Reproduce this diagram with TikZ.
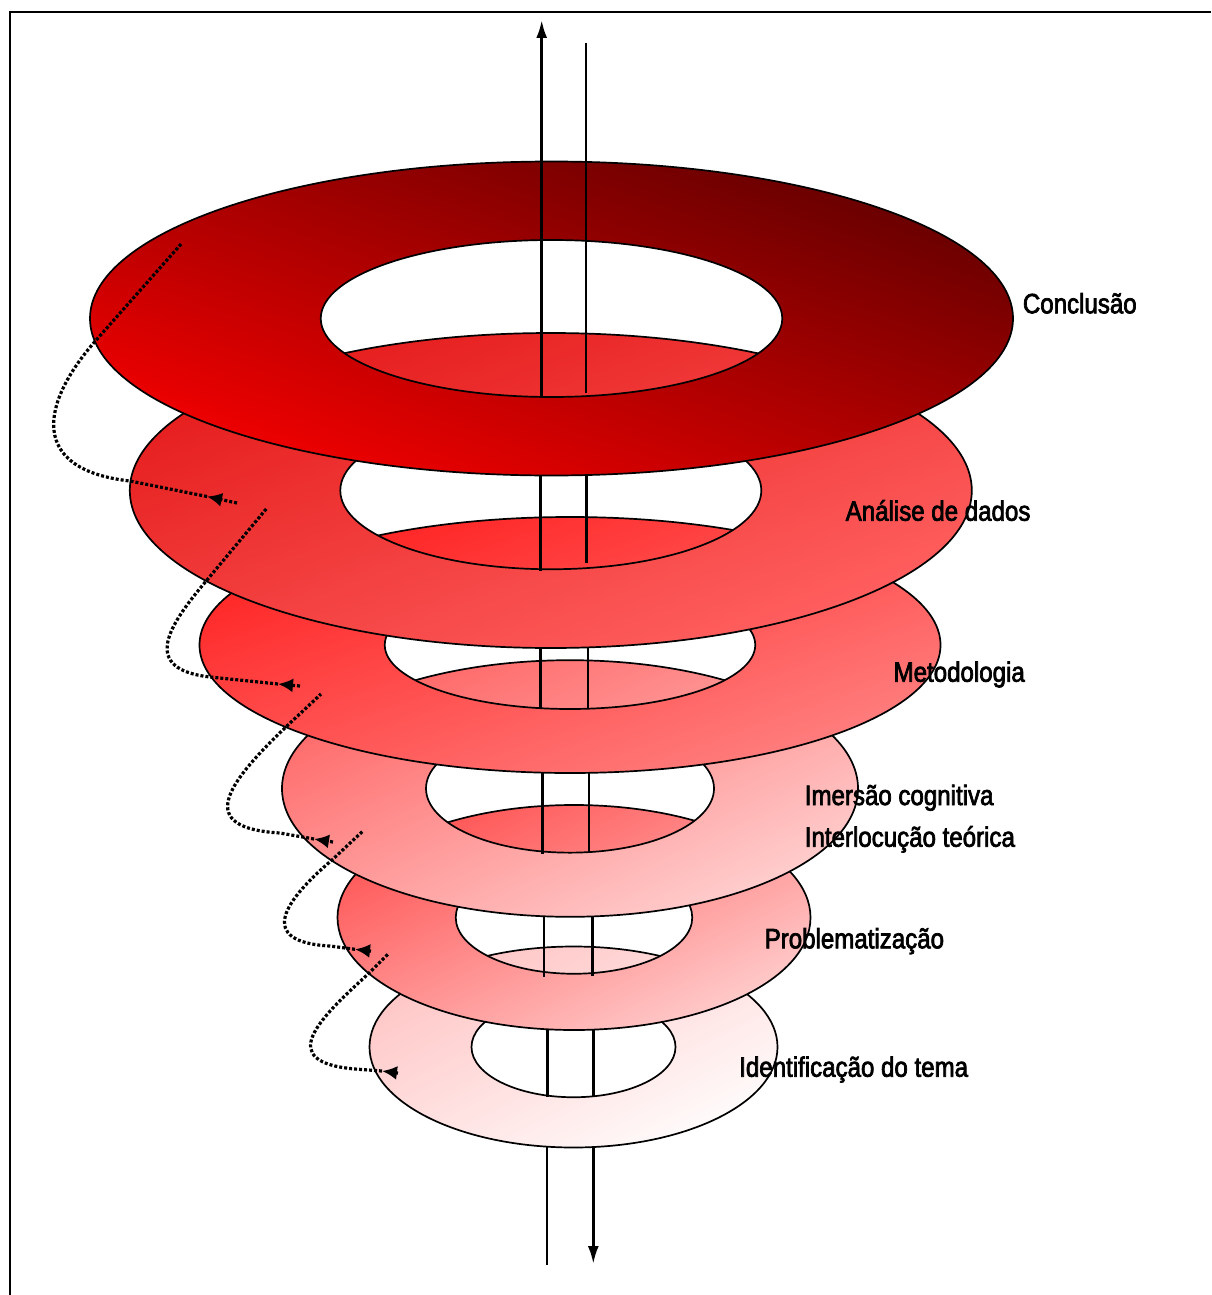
\documentclass[tikz,border=0pt]{standalone}
\usepackage{fontspec}
\setmainfont{Liberation Sans}[FakeStretch=0.86,FakeBold=2.5]
\usetikzlibrary{arrows.meta}
\definecolor{r1a}{HTML}{6C0000}
\definecolor{r1b}{HTML}{EC0000}
\definecolor{r2a}{HTML}{E61E1E}
\definecolor{r2b}{HTML}{FF5E5E}
\definecolor{r3a}{HTML}{FF2626}
\definecolor{r3b}{HTML}{FF7C7C}
\definecolor{r4a}{HTML}{FF6A6A}
\definecolor{r4b}{HTML}{FFCCCC}
\definecolor{r5a}{HTML}{FF5858}
\definecolor{r5b}{HTML}{FFC8C8}
\definecolor{r6a}{HTML}{FFC6C6}
\definecolor{r6b}{HTML}{FFFAFA}
\tikzset{
  ringedge/.style={draw=black, line width=1.7pt},
  axisline/.style={line width=2.8pt, line cap=butt},
  axistip/.style={-{Latex[length=18pt,width=11pt]}},
  spiral/.style={line width=3.2pt, dash pattern=on 3pt off 2pt},
  spiraltip/.style={-{Latex[length=15pt,width=14pt]}},
  stagelabel/.style={anchor=base west, inner sep=0pt, font=\fontsize{28}{32}\selectfont},
  frameline/.style={line width=2pt},
}
\newcommand\drawring[7]{%
  \begin{scope}[transform canvas={shift={(#1,#2)}, xscale=#3/10, yscale=#4/10}]
    \shade[even odd rule, top color=#5, bottom color=#6, shading angle=#7]
      (0,0) circle [radius=10pt] (0,0) circle [radius=5pt];
  \end{scope}
  \draw[ringedge] (#1,#2) ellipse [x radius=#3, y radius=#4]
     (#1,#2) ellipse [x radius=#3/2, y radius=#4/2];
}
\begin{document}
\begin{tikzpicture}[x=1pt,y=-1pt]
\useasboundingbox (0,0) rectangle (1211,1295);
\fill[white] (0,0) rectangle (1211,1295);
% frame
\coordinate (fl) at (10,1295);
\coordinate (fc) at (10,12);
\coordinate (fr) at (1211,12);
\draw[frameline] (fl) -- (fc) -- (fr);
% bottom axis segments
\coordinate (b1t) at (547,1140); \coordinate (b1b) at (547,1265);
\coordinate (b2t) at (593.3,1140); \coordinate (b2b) at (593.3,1264);
\draw[axisline] (b1t) -- (b1b);
\draw[axisline, axistip] (b2t) -- (b2b);
% ring 6
\drawring{573.5}{1047}{204}{100.5}{r6a}{r6b}{45}
\coordinate (s6lt) at (547.7,1020); \coordinate (s6lb) at (547.7,1097);
\coordinate (s6rt) at (593.3,1020); \coordinate (s6rb) at (593.3,1097);
\draw[axisline] (s6lt) -- (s6lb); \draw[axisline] (s6rt) -- (s6rb);
% ring 5
\drawring{574}{917.5}{236.5}{112.5}{r5a}{r5b}{45}
\coordinate (s5lt) at (544,906); \coordinate (s5lb) at (544,976.7);
\coordinate (s5rt) at (592.3,906); \coordinate (s5rb) at (592.3,976);
\draw[axisline] (s5lt) -- (s5lb); \draw[axisline] (s5rt) -- (s5rb);
% ring 4
\drawring{570}{788.5}{288}{128.3}{r4a}{r4b}{45}
\coordinate (s4lt) at (542.7,763); \coordinate (s4lb) at (542.7,854);
\coordinate (s4rt) at (589,763); \coordinate (s4rb) at (589,853);
\draw[axisline] (s4lt) -- (s4lb); \draw[axisline] (s4rt) -- (s4rb);
% ring 3
\drawring{570}{645}{370.5}{128}{r3a}{r3b}{45}
\coordinate (s3lt) at (540.7,638); \coordinate (s3lb) at (540.7,709);
\coordinate (s3rt) at (588,638); \coordinate (s3rb) at (588,708);
\draw[axisline] (s3lt) -- (s3lb); \draw[axisline] (s3rt) -- (s3rb);
% ring 2
\drawring{550.8}{490.5}{421}{157.5}{r2a}{r2b}{45}
\coordinate (s2lt) at (540.7,465); \coordinate (s2lb) at (540.7,571);
\coordinate (s2rt) at (586.7,465); \coordinate (s2rb) at (586.7,563);
\draw[axisline] (s2lt) -- (s2lb); \draw[axisline] (s2rt) -- (s2rb);
% ring 1
\drawring{551.5}{318.5}{461.5}{157}{r1a}{r1b}{-45}
\coordinate (s1lt) at (541.7,20); \coordinate (s1lb) at (541.7,396);
\coordinate (s1rt) at (586,43); \coordinate (s1rb) at (586,393);
\draw[axisline, axistip] (s1lb) -- (s1lt); \draw[axisline] (s1rt) -- (s1rb);
% dotted spirals
\coordinate (e1) at (237,503); \coordinate (t1) at (207,496.5);
\draw[spiral, spiraltip] (e1) -- (t1);
\draw[spiral] (t1) -- (130,481) .. controls (30,470) and (38,405) .. (98,338) -- (182,243);
\coordinate (e2) at (300,686); \coordinate (t2) at (278,684);
\draw[spiral, spiraltip] (e2) -- (t2);
\draw[spiral] (t2) -- (210,677) .. controls (140,669) and (168,626) .. (207,580) -- (267,508);
\coordinate (e3) at (333,842); \coordinate (t3) at (314,839);
\draw[spiral, spiraltip] (e3) -- (t3);
\draw[spiral] (t3) -- (280,833) .. controls (195,828) and (225,785) .. (288,725) -- (321,694);
\coordinate (e4) at (371,951); \coordinate (t4) at (355,949.3);
\draw[spiral, spiraltip] (e4) -- (t4);
\draw[spiral] (t4) -- (330,946) .. controls (255,942) and (285,900) .. (332,860) -- (363,831);
\coordinate (e5) at (398,1073); \coordinate (t5) at (382,1071);
\draw[spiral, spiraltip] (e5) -- (t5);
\draw[spiral] (t5) -- (355,1069) .. controls (275,1062) and (318,1020) .. (367,975) -- (389,953);
% labels
\node[stagelabel] (lconc) at (1022.7,313.3) {Conclusão};
\node[stagelabel] (lanal) at (845.5,520.7) {Análise de dados};
\node[stagelabel] (lmet) at (893.4,681.7) {Metodologia};
\node[stagelabel] (limer) at (804.6,805) {Imersão cognitiva};
\node[stagelabel] (linter) at (804.6,846.7) {Interlocução teórica};
\node[stagelabel] (lprob) at (764.5,948.3) {Problematização};
\node[stagelabel] (lident) at (739,1076.7) {Identificação do tema};
\end{tikzpicture}
\end{document}
